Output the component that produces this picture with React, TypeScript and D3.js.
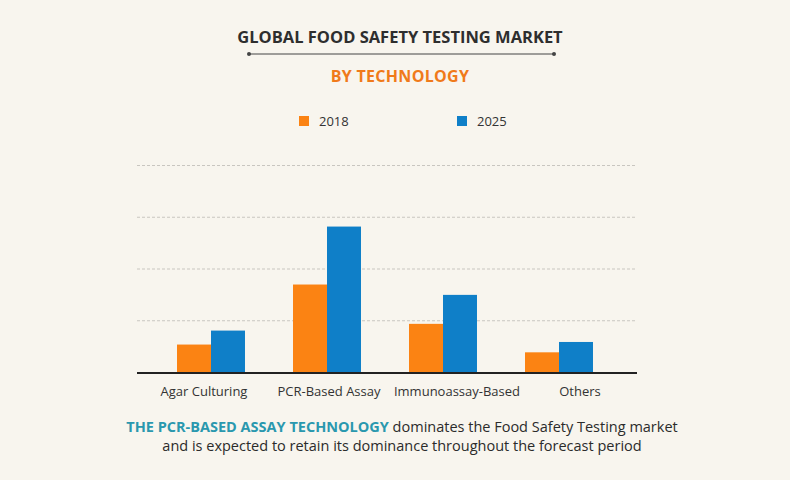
import React, { useEffect, useRef } from "react";
import * as d3 from "d3";

const categories = ["Agar Culturing", "PCR-Based Assay", "Immunoassay-Based", "Others"];
const years = ["2018", "2025"];
const values2018 = [0.54, 1.7, 0.94, 0.39];
const values2025 = [0.81, 2.82, 1.5, 0.59];
const gridTicks = [1, 2, 3, 4];

const colors = ["#fb8313", "#0f7fc8"];
const font = "'Open Sans', sans-serif";

const App = () => {
  const ref = useRef<SVGSVGElement | null>(null);

  useEffect(() => {
    document.body.style.margin = "0";
    const svg = d3.select(ref.current);
    svg.selectAll("*").remove();

    const width = 790;
    const height = 480;

    svg.append("rect").attr("width", width).attr("height", height).attr("fill", "#f8f5ee");

    // titles
    svg.append("text")
      .attr("x", 400).attr("y", 43)
      .attr("text-anchor", "middle")
      .style("font-family", font).style("font-weight", 700).style("font-size", "16.5px")
      .attr("fill", "#2e2e2e")
      .text("GLOBAL FOOD SAFETY TESTING MARKET");

    svg.append("line")
      .attr("x1", 249).attr("x2", 554).attr("y1", 54).attr("y2", 54)
      .attr("stroke", "#444").attr("stroke-width", 1);
    [249, 554].forEach((cx) =>
      svg.append("circle").attr("cx", cx).attr("cy", 54).attr("r", 2).attr("fill", "#444"));

    svg.append("text")
      .attr("x", 400).attr("y", 82)
      .attr("text-anchor", "middle")
      .style("font-family", font).style("font-weight", 700).style("font-size", "16px")
      .style("letter-spacing", "0.3px")
      .attr("fill", "#f07a1a")
      .text("BY  TECHNOLOGY");

    // legend
    const legendX = [299, 457];
    years.forEach((y, i) => {
      svg.append("rect")
        .attr("x", legendX[i]).attr("y", 116).attr("width", 10).attr("height", 10)
        .attr("fill", colors[i]);
      svg.append("text")
        .attr("x", legendX[i] + 20).attr("y", 125.5)
        .style("font-family", font).style("font-size", "13px")
        .attr("fill", "#333")
        .text(y);
    });

    // chart
    const y = d3.scaleLinear().domain([0, 4]).range([372.5, 165.5]);
    const x0 = d3.scaleBand().domain(categories).range([153, 617]).paddingInner(0.414).paddingOuter(0.207);
    const x1 = d3.scaleBand().domain(years).range([0, x0.bandwidth()]);

    const g = svg.append("g");
    g.selectAll(".grid")
      .data(gridTicks)
      .enter()
      .append("line")
      .attr("x1", 137).attr("x2", 637)
      .attr("y1", (d) => y(d)).attr("y2", (d) => y(d))
      .attr("stroke", "#c9c6c0")
      .attr("stroke-width", 1)
      .attr("stroke-dasharray", "3,2");

    const series = [values2018, values2025];
    series.forEach((vals, si) => {
      g.selectAll(".bar" + si)
        .data(vals)
        .enter()
        .append("rect")
        .attr("x", (d, i) => (x0(categories[i]) as number) + (x1(years[si]) as number))
        .attr("y", (d) => y(d))
        .attr("width", x1.bandwidth())
        .attr("height", (d) => y(0) - y(d))
        .attr("fill", colors[si]);
    });

    g.append("line")
      .attr("x1", 137).attr("x2", 637).attr("y1", 373).attr("y2", 373)
      .attr("stroke", "#222").attr("stroke-width", 2);

    const labelShift = [-7, 2, 14, 21];
    g.selectAll(".cat")
      .data(categories)
      .enter()
      .append("text")
      .attr("x", (d, i) => (x0(d) as number) + x0.bandwidth() / 2 + labelShift[i])
      .attr("y", 396)
      .attr("text-anchor", "middle")
      .style("font-family", font).style("font-size", "13px")
      .attr("fill", "#333")
      .text((d) => d);

    // footer
    const f1 = svg.append("text")
      .attr("x", 402).attr("y", 432)
      .attr("text-anchor", "middle")
      .style("font-family", font).style("font-size", "14.5px")
      .attr("fill", "#2b2b2b");
    f1.append("tspan").style("font-weight", 700).attr("fill", "#2a98ae").text("THE PCR-BASED ASSAY TECHNOLOGY");
    f1.append("tspan").text(" dominates the Food Safety Testing market");

    svg.append("text")
      .attr("x", 402).attr("y", 451)
      .attr("text-anchor", "middle")
      .style("font-family", font).style("font-size", "14.5px")
      .attr("fill", "#2b2b2b")
      .text("and is expected to retain its dominance throughout the forecast period");
  }, []);

  return <svg ref={ref} width={790} height={480} style={{ display: "block" }} />;
};

export default App;
